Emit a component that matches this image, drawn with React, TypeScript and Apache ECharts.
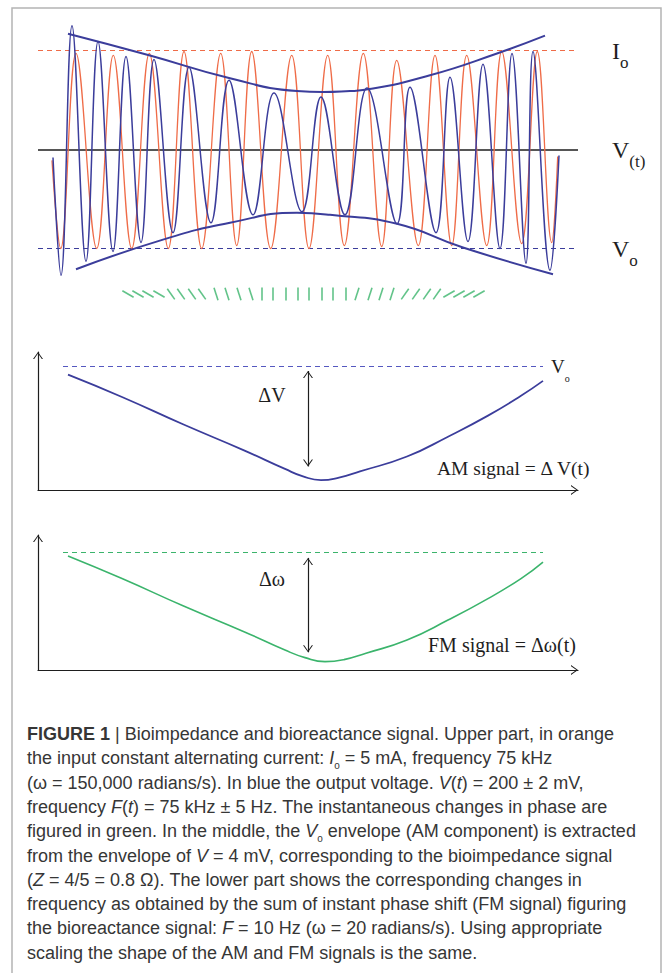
import React, { useEffect, useRef } from "react";
import * as echarts from "echarts";

// ---------------- DATA ----------------
// Upper panel: time in arbitrary units (0–540), amplitude normalised so that Io = 1 and Vo = -1.
// Orange input current: successive turning points (start, troughs/peaks, end).
const orangeTime = [14, 22.7, 38, 58.7, 75.3, 93.7, 111.3, 130.3, 146, 163.7, 182.7, 198.7, 213.7, 232.7, 253.7, 271, 289.7, 306.3, 325.3, 343.7, 358.7, 380.3, 397, 413.7, 428.7, 448.7, 463.7, 483.7, 499.3, 513.7, 519.7];
const orangeAmp = [-0.11, -1.0, 0.97, -1.0, 0.95, -1.0, 0.97, -1.0, 0.99, -1.0, 0.97, -0.97, 0.99, -1.0, 0.95, -1.0, 0.95, -0.97, 0.97, -0.98, 0.9, -0.97, 0.95, -0.97, 0.95, -0.97, 0.99, -0.95, 0.99, -0.94, -0.07];
// Blue output voltage: successive turning points.
const blueTime = [15, 23, 34, 48, 60, 75, 88, 103, 116, 135, 151, 173, 191, 215, 236, 264, 283, 307, 329, 359, 372, 398, 412, 430, 445, 462, 474, 488, 495, 512, 521];
const blueAmp = [-0.08, -1.27, 1.25, -1.13, 1.09, -1.03, 0.94, -0.94, 0.91, -0.84, 0.83, -0.74, 0.7, -0.66, 0.57, -0.63, 0.53, -0.66, 0.62, -0.75, 0.63, -0.84, 0.73, -0.93, 0.86, -1.0, 0.97, -1.15, 0.99, -1.22, -0.06];
// Blue envelopes
const upperEnvTime = [30, 112, 192, 259, 285, 312, 325, 392, 459, 507];
const upperEnvAmp = [1.17, 0.95, 0.72, 0.59, 0.58, 0.59, 0.6, 0.75, 0.97, 1.15];
const lowerEnvTime = [38, 125, 192, 259, 292, 359, 425, 515];
const lowerEnvAmp = [-1.21, -0.91, -0.74, -0.64, -0.66, -0.75, -0.99, -1.26];
// Green instantaneous phase marks: time and tilt (degrees)
const phaseTime = [90, 100, 110, 121, 133, 143, 154, 164, 178, 189, 201, 213, 224, 235, 248, 260, 271, 284, 295, 308, 319, 332, 343, 354, 367, 378, 389, 399, 411, 421, 431, 441];
const phaseTilt = [60, 60, 60, 60, 35, 35, 35, 35, 18, 18, 18, 18, 0, 0, 0, 0, 0, 0, 0, 0, -18, -18, -18, -18, -35, -35, -35, -35, -60, -60, -60, -60];
const phaseRow = -1.46;
const levelIo = 1;
const levelV = 0;
const levelVo = -1;

// Middle panel (AM signal), value normalised so that Vo = 1
const amTime = [30, 84, 145, 206, 247, 265, 283, 301, 322, 369, 410, 450, 483, 505];
const amValue = [0.93, 0.75, 0.53, 0.32, 0.17, 0.11, 0.08, 0.1, 0.15, 0.27, 0.43, 0.6, 0.76, 0.88];
const amRefSpan = [25, 505];
const amRefLevel = 1;
const amArrowTime = 270;
const amArrowSpan = [0.96, 0.19];

// Lower panel (FM signal), value normalised so that the reference = 1
const fmTime = [30, 84, 145, 206, 247, 267, 287, 306, 328, 369, 410, 450, 483, 505];
const fmValue = [0.966, 0.775, 0.544, 0.325, 0.169, 0.105, 0.071, 0.088, 0.142, 0.254, 0.423, 0.605, 0.775, 0.915];
const fmRefSpan = [25, 505];
const fmRefLevel = 1;
const fmArrowTime = 270;
const fmArrowSpan = [0.95, 0.15];

const captionLines = [
  "{b|FIGURE 1} {bar||} Bioimpedance and bioreactance signal. Upper part, in orange",
  "the input constant alternating current: {i|I}{s|o} = 5 mA, frequency 75 kHz",
  "(ω = 150,000 radians/s). In blue the output voltage. {i|V}({i|t}) = 200 ± 2 mV,",
  "frequency {i|F}({i|t}) = 75 kHz ± 5 Hz. The instantaneous changes in phase are",
  "figured in green. In the middle, the {i|V}{s|o} envelope (AM component) is extracted",
  "from the envelope of {i|V} = 4 mV, corresponding to the bioimpedance signal",
  "({i|Z} = 4/5 = 0.8 Ω). The lower part shows the corresponding changes in",
  "frequency as obtained by the sum of instant phase shift (FM signal) figuring",
  "the bioreactance signal: {i|F} = 10 Hz (ω = 20 radians/s). Using appropriate",
  "scaling the shape of the AM and FM signals is the same.",
];

// ---------------- STYLE ----------------
const ORANGE = "#ef6c48";
const BLUE = "#3b3d9b";
const GREEN = "#3bb46c";
const INK = "#1e1e1e";
const SERIF = "Liberation Serif";
const SANS = "Liberation Sans";
// open chevron, tip at the centre of its box (dummy points enlarge the bounding box)
const CHEVRON = "path://M5,0 L5.01,0 Z M5,20 L5.01,20 Z M0,17 L5,10 L10,17 L8.8,17 L5,11.6 L1.2,17 Z";

const zip = (a: number[], b: number[]) => a.map((v, i) => [v, b[i]]);

function buildOption(): echarts.EChartsOption {
  // main letter centred on the line, subscript pushed down with bottom alignment
  const serifRich = {
    m: { fontFamily: SERIF, fontSize: 24, lineHeight: 40, color: INK },
    s: { fontFamily: SERIF, fontSize: 17, lineHeight: 18, verticalAlign: "bottom", color: INK },
  };
  const arrowAxis = (gridIndex: number, max: number) => ({
    gridIndex,
    type: "value" as const,
    min: 0,
    max,
    axisLine: {
      show: true,
      onZero: false,
      symbol: ["none", CHEVRON],
      symbolSize: [10, 20],
      lineStyle: { color: INK, width: 1.2 },
    },
    axisTick: { show: false },
    axisLabel: { show: false },
    splitLine: { show: false },
  });

  const FS = 18;
  const captionRich = {
    b: { fontFamily: SANS, fontWeight: "bold", fontSize: FS, lineHeight: 24, color: "#2a2a2a" },
    bar: { fontFamily: SANS, fontSize: FS, lineHeight: 24, color: "#888" },
    i: { fontFamily: SANS, fontStyle: "italic", fontSize: FS, lineHeight: 24, color: "#363636" },
    s: { fontFamily: SANS, fontSize: 10, lineHeight: 17, verticalAlign: "bottom", color: "#363636" },
  };

  const captionTop = 734;
  const captionStep = 24.3;

  return {
    animation: false,
    backgroundColor: "#fff",
    grid: [
      { left: 38, top: 10.9, width: 540, height: 297 },
      { left: 38, top: 352, width: 540, height: 138 },
      { left: 38, top: 535, width: 540, height: 135 },
    ],
    xAxis: [
      { gridIndex: 0, type: "value", min: 0, max: 540, show: false },
      arrowAxis(1, 540),
      arrowAxis(2, 540),
    ],
    yAxis: [
      { gridIndex: 0, type: "value", min: -1.6, max: 1.4, show: false },
      arrowAxis(1, 1.113),
      arrowAxis(2, 1.144),
    ],
    series: [
      {
        type: "line",
        xAxisIndex: 0,
        yAxisIndex: 0,
        data: zip(orangeTime, orangeAmp),
        smooth: 0.4,
        showSymbol: false,
        lineStyle: { color: ORANGE, width: 1.3 },
        z: 2,
        markLine: {
          silent: true,
          symbol: ["none", "none"],
          z: 1,
          label: { show: true, position: "end", distance: 34, rich: serifRich },
          data: [
            { yAxis: levelIo, lineStyle: { color: ORANGE, type: [5, 4], width: 1.2 }, label: { formatter: "{m|I}{s|o}" } },
            { yAxis: levelV, lineStyle: { color: INK, type: "solid", width: 1.5 }, label: { formatter: "{m|V}{s|(t)}" } },
            { yAxis: levelVo, lineStyle: { color: BLUE, type: [5, 4], width: 1.2 }, label: { formatter: "{m|V}{s|o}" } },
          ],
        },
      },
      {
        type: "line",
        xAxisIndex: 0,
        yAxisIndex: 0,
        data: zip(blueTime, blueAmp),
        smooth: 0.4,
        showSymbol: false,
        lineStyle: { color: BLUE, width: 1.5 },
        z: 3,
      },
      {
        type: "line",
        xAxisIndex: 0,
        yAxisIndex: 0,
        data: zip(upperEnvTime, upperEnvAmp),
        smooth: 0.5,
        showSymbol: false,
        lineStyle: { color: BLUE, width: 2 },
        z: 4,
      },
      {
        type: "line",
        xAxisIndex: 0,
        yAxisIndex: 0,
        data: zip(lowerEnvTime, lowerEnvAmp),
        smooth: 0.5,
        showSymbol: false,
        lineStyle: { color: BLUE, width: 2 },
        z: 4,
      },
      {
        type: "scatter",
        xAxisIndex: 0,
        yAxisIndex: 0,
        symbol: "rect",
        symbolSize: [1.6, 13],
        itemStyle: { color: GREEN },
        data: phaseTime.map((t, i) => ({ value: [t, phaseRow], symbolRotate: phaseTilt[i] })),
      },
      // AM panel
      {
        type: "line",
        xAxisIndex: 1,
        yAxisIndex: 1,
        data: zip(amTime, amValue),
        smooth: 0.5,
        showSymbol: false,
        lineStyle: { color: BLUE, width: 1.8 },
        markLine: {
          silent: true,
          data: [
            [
              { coord: [amRefSpan[0], amRefLevel], symbol: "none", lineStyle: { color: "#5558c0", type: [5, 4], width: 1.2 },
                label: { show: true, position: "end", distance: 8, formatter: "{m|V}{s|o}",
                  rich: {
                    m: { fontFamily: SERIF, fontSize: 19, lineHeight: 34, color: INK },
                    s: { fontFamily: SERIF, fontSize: 10, lineHeight: 14, verticalAlign: "bottom", color: INK },
                  } } },
              { coord: [amRefSpan[1], amRefLevel], symbol: "none" },
            ],
            [
              { coord: [amArrowTime, amArrowSpan[0]], symbol: CHEVRON, symbolSize: [10, 20], lineStyle: { color: INK, type: "solid", width: 1.2 }, label: { show: false } },
              { coord: [amArrowTime, amArrowSpan[1]], symbol: CHEVRON, symbolSize: [10, 20] },
            ],
          ],
        },
      },
      // FM panel
      {
        type: "line",
        xAxisIndex: 2,
        yAxisIndex: 2,
        data: zip(fmTime, fmValue),
        smooth: 0.5,
        showSymbol: false,
        lineStyle: { color: GREEN, width: 1.6 },
        markLine: {
          silent: true,
          data: [
            [
              { coord: [fmRefSpan[0], fmRefLevel], symbol: "none", lineStyle: { color: GREEN, type: [5, 4], width: 1.2 }, label: { show: false } },
              { coord: [fmRefSpan[1], fmRefLevel], symbol: "none" },
            ],
            [
              { coord: [fmArrowTime, fmArrowSpan[0]], symbol: CHEVRON, symbolSize: [10, 20], lineStyle: { color: INK, type: "solid", width: 1.2 }, label: { show: false } },
              { coord: [fmArrowTime, fmArrowSpan[1]], symbol: CHEVRON, symbolSize: [10, 20] },
            ],
          ],
        },
      },
    ],
    graphic: [
      {
        type: "polyline",
        silent: true,
        shape: { points: [[12, 973], [12, 8], [661, 8], [661, 973]] },
        style: { stroke: "#b4b4b4", lineWidth: 1.5, fill: "none" },
      },
      { type: "text", x: 272, y: 395, style: { text: "ΔV", font: `20px "${SERIF}"`, fill: INK, align: "center", verticalAlign: "middle" } },
      { type: "text", x: 437, y: 468, style: { text: "AM signal = Δ V(t)", font: `19.5px "${SERIF}"`, fill: INK, align: "left", verticalAlign: "middle" } },
      { type: "text", x: 272, y: 579, style: { text: "Δω", font: `20px "${SERIF}"`, fill: INK, align: "center", verticalAlign: "middle" } },
      { type: "text", x: 428, y: 645, style: { text: "FM signal = Δω(t)", font: `20px "${SERIF}"`, fill: INK, align: "left", verticalAlign: "middle" } },
      ...captionLines.map((line, i) => ({
        type: "text" as const,
        x: 27,
        y: captionTop + i * captionStep,
        style: {
          text: line,
          fontFamily: SANS,
          fontSize: FS,
          lineHeight: 24,
          fill: "#363636",
          align: "left" as const,
          verticalAlign: "middle" as const,
          rich: captionRich,
        },
      })),
    ],
  } as echarts.EChartsOption;
}

export default function App() {
  const ref = useRef<HTMLDivElement>(null);
  useEffect(() => {
    if (!ref.current) return;
    const chart = echarts.init(ref.current, undefined, { renderer: "svg" });
    chart.setOption(buildOption());
    return () => chart.dispose();
  }, []);
  return (
    <div
      ref={ref}
      style={{ position: "absolute", left: 0, top: 0, width: 664, height: 973, background: "#fff" }}
    />
  );
}
